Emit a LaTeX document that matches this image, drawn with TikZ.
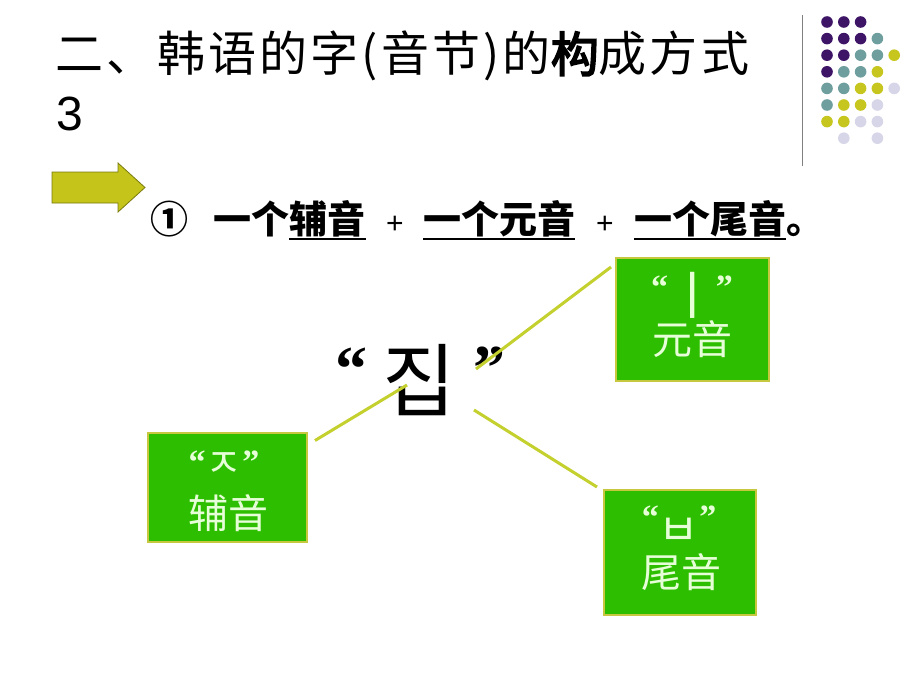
\documentclass[tikz,border=0pt]{standalone}
\usepackage{fontspec}
\setmainfont{Liberation Sans}
\newfontfamily\cjk{Noto Sans CJK SC}
\newfontfamily\cjkls[LetterSpace=6.5]{Noto Sans CJK SC}
\newfontfamily\cjkfb[LetterSpace=6.5,FakeBold=3.5]{Noto Sans CJK SC}
\newfontfamily\kr{Noto Sans CJK KR}
\newfontfamily\qf{Liberation Serif}
\newcommand{\bq}[1]{{\fontsize{34}{34}\qf\bfseries #1}}
\definecolor{dpurple}{HTML}{3D1466}
\definecolor{dteal}{HTML}{6E9E9E}
\definecolor{dyellow}{HTML}{C6C61E}
\definecolor{dlav}{HTML}{D6D6E8}
\definecolor{boxgreen}{HTML}{2EBE00}
\definecolor{boxedge}{HTML}{C8C840}
\definecolor{boxtext}{HTML}{E6FFD8}
\definecolor{linkc}{HTML}{C4D02E}
\definecolor{arrowfill}{HTML}{C4C41A}
\definecolor{arrowedge}{HTML}{7A7A10}
\definecolor{rulegray}{HTML}{808080}
\begin{document}
\begin{tikzpicture}[x=1pt,y=-1pt,
  gbox/.style={draw=boxedge,line width=2pt,fill=boxgreen,inner sep=0pt},
  boxrow/.style={text=boxtext,inner sep=0pt,anchor=base},
  boxt/.style={text=boxtext,inner sep=0pt,font=\fontsize{40}{40}\cjk},
  bigq/.style={inner sep=0pt,anchor=base,font=\fontsize{64}{64}\qf\bfseries},
  link/.style={draw=linkc,line width=3pt},
  seg/.style={inner sep=0pt,anchor=base west,font=\fontsize{38}{38}\cjk\bfseries},
  plus/.style={inner sep=0pt,anchor=base,font=\fontsize{30}{30}\selectfont},
  uline/.style={draw=black,line width=1.8pt}]
\useasboundingbox (0,0) rectangle (920,690);
\fill[white] (0,0) rectangle (920,690);

% decorative dots and rule
\draw[rulegray,line width=1pt] (802,15) -- (802,166);
\foreach \c/\r/\col in {0/0/dpurple,1/0/dpurple,2/0/dpurple,
  0/1/dpurple,1/1/dpurple,2/1/dpurple,3/1/dteal,
  0/2/dpurple,1/2/dpurple,2/2/dteal,3/2/dteal,4/2/dyellow,
  0/3/dpurple,1/3/dteal,2/3/dteal,3/3/dyellow,
  0/4/dteal,1/4/dteal,2/4/dyellow,3/4/dyellow,4/4/dlav,
  0/5/dteal,1/5/dyellow,2/5/dyellow,3/5/dlav,
  0/6/dyellow,1/6/dyellow,2/6/dlav,3/6/dlav,
  1/7/dlav,3/7/dlav}
  \fill[\col] (827+16.8*\c,22+16.6*\r) circle (5.8);

% title
\node[inner sep=0pt,anchor=base west,font=\fontsize{48}{48}\cjkls] (title) at (55,72)
  {二、韩语的字(音节)的{\cjkfb 构}成方式};
\node[inner sep=0pt,anchor=base west,font=\fontsize{48}{48}\selectfont] (three) at (56,130) {3};

% arrow
\draw[fill=arrowfill,draw=arrowedge,line width=0.8pt]
  (52,172) -- (118,172) -- (118,163) -- (145,187.5) -- (118,212) -- (118,203) -- (52,203) -- cycle;

% rule line
\node[seg] (circ) at (150,233) {①};
\node[seg] (s1a) at (213,233) {一个};
\node[seg] (s1b) at (s1a.base east) {辅音};
\node[plus] (p1) at (395,233) {+};
\node[seg] (s2) at (423,233) {一个元音};
\node[plus] (p2) at (605,233) {+};
\node[seg] (s3) at (634,233) {一个尾音};
\node[seg] (stop) at (786,233) {。};
\draw[uline] ([yshift=-6]s1b.base west) -- ([yshift=-6]s1b.base east);
\draw[uline] ([yshift=-6]s2.base west) -- ([yshift=-6]s2.base east);
\draw[uline] ([yshift=-6]s3.base west) -- ([yshift=-6]s3.base east);

% boxes
\node[gbox,minimum width=153pt,minimum height=123pt] (vowel) at (692.5,319.5) {};
\node[gbox,minimum width=159pt,minimum height=109pt] (cons) at (227.5,487) {};
\node[gbox,minimum width=152pt,minimum height=125pt] (final) at (680,552.5) {};

\node[boxrow] (vrow) at (692,314)
  {\raisebox{16pt}{\bq{“}}{\fontsize{52}{52}\kr ㅣ}\raisebox{16pt}{\bq{”}}};
\node[boxt] (vt) at (692,339) {元音};

\node[boxrow] (crow) at (224,477)
  {\raisebox{4pt}{\bq{“}}{\fontsize{40}{40}\kr ㅈ}\raisebox{4pt}{\bq{”}}};
\node[boxt] (ct) at (228,513) {辅音};

\node[boxrow] (frow) at (679,545)
  {\raisebox{17pt}{\bq{“}}{\fontsize{44}{44}\kr ㅂ}\raisebox{17pt}{\bq{”}}};
\node[boxt] (ft) at (681,572) {尾音};

% central syllable
\node[bigq] (bq1) at (351,390) {“};
\node[inner sep=0pt,font=\fontsize{80}{80}\kr] (jip) at (419,380) {집};
\node[bigq] (bq2) at (489,389) {”};

% connectors
\coordinate (vEnd) at ([shift={(-4,10)}]vowel.north west);
\coordinate (jipA) at (476,369);
\coordinate (cEnd) at ([shift={(7,9)}]cons.north east);
\coordinate (jipB) at (407,385);
\coordinate (fEnd) at ([shift={(-6,-2)}]final.north west);
\coordinate (jipC) at (474,410);
\draw[link] (vEnd) -- (jipA);
\draw[link] (cEnd) -- (jipB);
\draw[link] (fEnd) -- (jipC);
\end{tikzpicture}
\end{document}
